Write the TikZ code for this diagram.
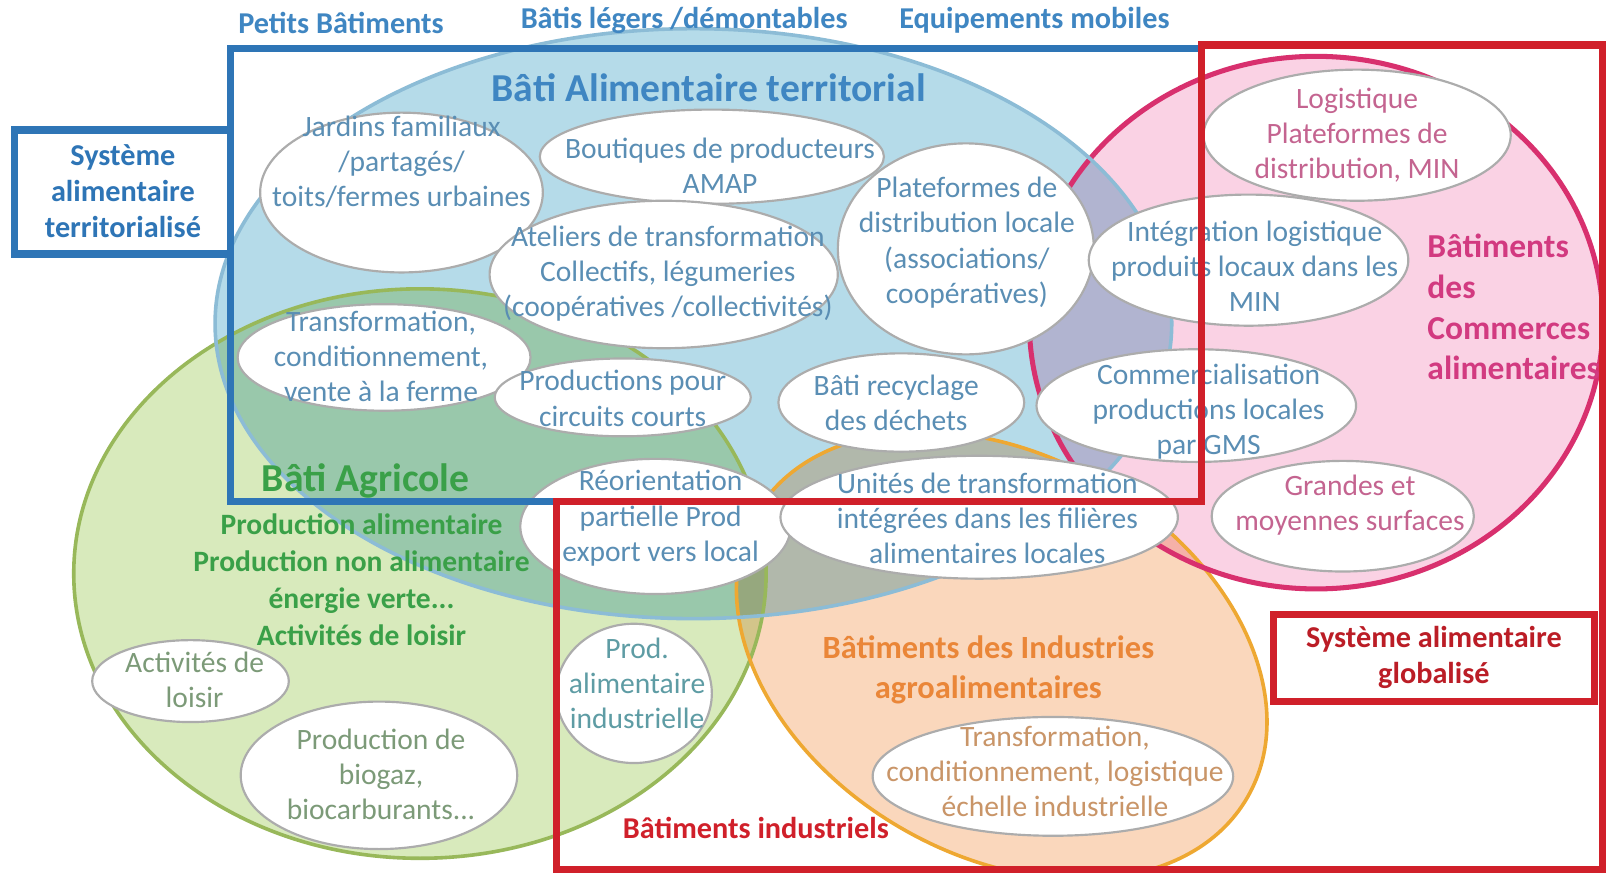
\documentclass[tikz,border=0pt]{standalone}
\usepackage{fontspec}
\setmainfont{Carlito}
\usetikzlibrary{shapes.geometric}

\definecolor{bleuRect}{HTML}{2E75B6}
\definecolor{bleuTxt}{HTML}{3F86C2}
\definecolor{bleuBulle}{HTML}{5A8EB4}
\definecolor{rougeRect}{HTML}{D0202A}
\definecolor{fondBleu}{HTML}{B5DBE9}
\definecolor{traitBleu}{HTML}{8CBCD6}
\definecolor{fondVert}{HTML}{D8EABC}
\definecolor{traitVert}{HTML}{98B85A}
\definecolor{vertTxt}{HTML}{3AA048}
\definecolor{fondRose}{HTML}{FAD2E4}
\definecolor{traitRose}{HTML}{D8306E}
\definecolor{roseTxt}{HTML}{D23A80}
\definecolor{roseBulle}{HTML}{C46490}
\definecolor{fondOrange}{HTML}{FAD7BC}
\definecolor{traitOrange}{HTML}{EEA832}
\definecolor{orangeTxt}{HTML}{EA8638}
\definecolor{orangeBulle}{HTML}{C99568}
\definecolor{grisVert}{HTML}{7C9A78}
\definecolor{tealTxt}{HTML}{5E9CA4}

\tikzset{
  bulle/.style={draw=gray!65, fill=white, line width=0.6pt},
  texte/.style={align=center, inner sep=0pt, font=\fontsize{8.2}{9.8}\selectfont},
  titre/.style={align=center, inner sep=0pt, font=\fontsize{11}{13}\selectfont\bfseries},
  gras/.style={align=center, inner sep=0pt, font=\fontsize{8.4}{10}\selectfont\bfseries},
  cadre/.style={line width=2pt}
}

\begin{document}
\begin{tikzpicture}[x=0.01cm, y=-0.01cm]
    \useasboundingbox (0,0) rectangle (1568,852);
    \fill[white] (0,0) rectangle (1568,852);

    % grands ensembles
    \begin{scope}[blend group=multiply]
        \fill[fondVert] (410,560) ellipse [x radius=338, y radius=278];
        \fill[fondBleu] (677,316) ellipse [x radius=467, y radius=288];
        \fill[fondRose] (1285,315) ellipse [x radius=280, y radius=260];
        \fill[fondOrange, rotate around={-30:(978,640)}] (978,640) ellipse [x radius=277, y radius=195];
    \end{scope}
    \draw[traitVert, line width=1pt] (410,560) ellipse [x radius=338, y radius=278];
    \draw[traitOrange, line width=1pt, rotate around={-30:(978,640)}] (978,640) ellipse [x radius=277, y radius=195];
    \draw[traitRose, line width=1.4pt] (1285,315) ellipse [x radius=280, y radius=260];
    \draw[traitBleu, line width=1pt] (677,316) ellipse [x radius=467, y radius=288];

    % bulles
    \draw[bulle] (392,188) ellipse [x radius=138, y radius=78];
    \draw[bulle] (695,153) ellipse [x radius=168, y radius=46];
    \draw[bulle] (648,268) ellipse [x radius=170, y radius=72];
    \draw[bulle] (943,243) ellipse [x radius=125, y radius=103];
    \draw[bulle] (375,349) ellipse [x radius=143, y radius=52];
    \draw[bulle] (608,388) ellipse [x radius=125, y radius=38];
    \draw[bulle] (880,393) ellipse [x radius=120, y radius=48];
    \draw[bulle] (1219,254) ellipse [x radius=156, y radius=64];
    \draw[bulle] (1168,396) ellipse [x radius=156, y radius=55];
    \draw[bulle] (1325,132) ellipse [x radius=150, y radius=64];
    \draw[bulle] (1311,504) ellipse [x radius=128, y radius=54];
    \draw[bulle] (640,514) ellipse [x radius=132, y radius=66];
    \draw[bulle] (956,505) ellipse [x radius=194, y radius=60];
    \draw[bulle] (619,677) ellipse [x radius=76, y radius=68];
    \draw[bulle] (186,665) ellipse [x radius=96, y radius=40];
    \draw[bulle] (370,757) ellipse [x radius=135, y radius=72];
    \draw[bulle] (1028,758) ellipse [x radius=176, y radius=58];

    % textes des bulles
    \node[texte, bleuBulle] (jardins) at (392,158) {Jardins familiaux\\/partagés/\\toits/fermes urbaines};
    \node[texte, bleuBulle] (boutiques) at (703,162) {Boutiques de producteurs\\AMAP};
    \node[texte, bleuBulle] (ateliers) at (652,267) {Ateliers de transformation\\Collectifs, légumeries\\(coopératives /collectivités)};
    \node[texte, bleuBulle] (plateformes) at (944,237) {Plateformes de\\distribution locale\\(associations/\\coopératives)};
    \node[texte, bleuBulle] (ferme) at (372,348) {Transformation,\\conditionnement,\\vente à la ferme};
    \node[texte, bleuBulle] (circuits) at (608,389) {Productions pour\\circuits courts};
    \node[texte, bleuBulle] (recyclage) at (875,393) {Bâti recyclage\\des déchets};
    \node[texte, bleuBulle] (integration) at (1225,260) {Intégration logistique\\produits locaux dans les\\MIN};
    \node[texte, bleuBulle] (gms) at (1180,402) {Commercialisation\\productions locales\\par GMS};
    \node[texte, roseBulle] (logistique) at (1325,132) {Logistique\\Plateformes de\\distribution, MIN};
    \node[texte, roseBulle] (grandes) at (1318,493) {Grandes et\\moyennes surfaces};
    \node[texte, bleuBulle] (reorientation) at (645,506) {Réorientation\\partielle Prod\\export vers local};
    \node[texte, bleuBulle] (unites) at (964,506) {Unités de transformation\\intégrées dans les filières\\alimentaires locales};
    \node[texte, tealTxt] (prodind) at (622,667) {Prod.\\alimentaire\\industrielle};
    \node[texte, grisVert] (loisir) at (190,664) {Activités de\\loisir};
    \node[texte, grisVert] (biogaz) at (372,756) {Production de\\biogaz,\\biocarburants...};
    \node[texte, orangeBulle] (echelle) at (1030,753) {Transformation,\\conditionnement, logistique\\échelle industrielle};

    % titres
    \node[titre, bleuTxt] (alimTerr) at (692,86) {Bâti Alimentaire territorial};
    \node[titre, vertTxt] (agricole) at (357,470) {Bâti Agricole};
    \node[gras, vertTxt, font=\fontsize{8.2}{10.2}\selectfont\bfseries] (prodAgri) at (353,566) {Production alimentaire\\Production non alimentaire\\énergie verte...\\Activités de loisir};
    \node[gras, roseTxt, align=left, anchor=west, font=\fontsize{9.3}{11.3}\selectfont\bfseries] (commerces) at (1393,300) {Bâtiments\\des\\Commerces\\alimentaires};
    \node[gras, orangeTxt, font=\fontsize{9}{11}\selectfont\bfseries] (iaa) at (965,654) {Bâtiments des Industries\\agroalimentaires};
    \node[gras, rougeRect] (industriels) at (738,808) {Bâtiments industriels};

    % etiquettes du haut
    \node[gras, bleuTxt] (petits) at (333,22) {Petits Bâtiments};
    \node[gras, bleuTxt] (legers) at (668,20) {Bâtis légers /démontables};
    \node[gras, bleuTxt] (mobiles) at (1010,20) {Equipements mobiles};

    % cadres des systemes
    \draw[cadre, bleuRect] (225,47) rectangle (1173,490);
    \draw[cadre, bleuRect] (14,127) rectangle (225,248);
    \node[gras, bleuRect] (sysTerr) at (120,187) {Système\\alimentaire\\territorialisé};
    \draw[cadre, rougeRect] (543,849) -- (543,490) -- (1173,490) -- (1173,44) -- (1565,44) -- (1565,849) -- cycle;
    \draw[cadre, rougeRect] (1243,600) rectangle (1557,685);
    \node[gras, rougeRect!90!black] (sysGlob) at (1400,642) {Système alimentaire\\globalisé};
\end{tikzpicture}
\end{document}
